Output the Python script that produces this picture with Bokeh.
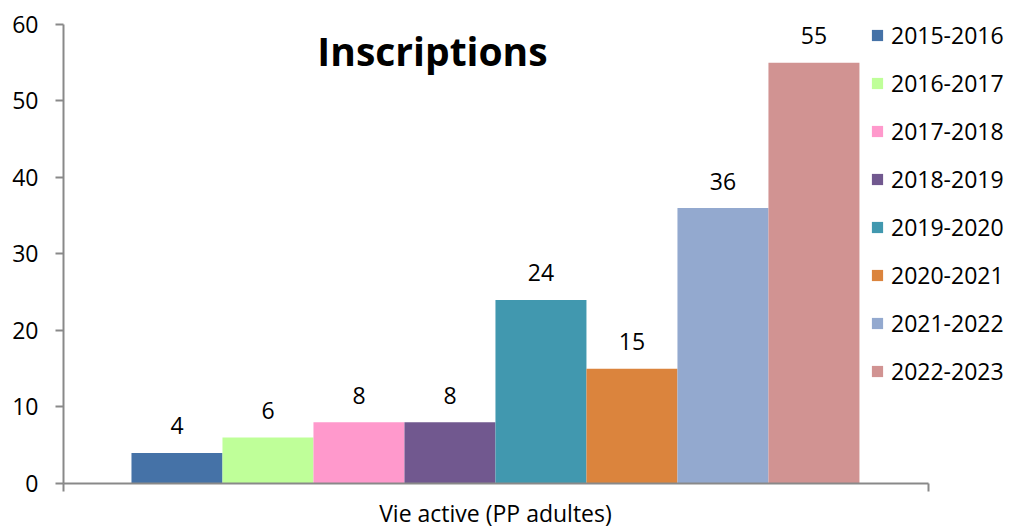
from bokeh.plotting import figure
from bokeh.models import (ColumnDataSource, Legend, LegendItem, LabelSet, Label,
                          FixedTicker, Range1d)
from bokeh.core.properties import value
from bokeh.embed import file_html
from bokeh.resources import INLINE

# ---- data ----
category = "Vie active (PP adultes)"
seasons = ["2015-2016", "2016-2017", "2017-2018", "2018-2019",
           "2019-2020", "2020-2021", "2021-2022", "2022-2023"]
inscriptions = [4, 6, 8, 8, 24, 15, 36, 55]
colors = ["#4572A7", "#BFFF99", "#FF99CC", "#71588F",
          "#4198AF", "#DB843D", "#93A9CF", "#D19392"]
y_ticks = [0, 10, 20, 30, 40, 50, 60]
y_max = 60
title_text = "Inscriptions"

FONT = "Open Sans"
AXIS_COLOR = "#898989"

pos = list(range(len(seasons)))
center = (pos[0] + pos[-1]) / 2
source = ColumnDataSource(dict(x=pos, y=inscriptions, color=colors,
                               season=seasons, lbl=[str(v) for v in inscriptions]))

# layout: frame spans from the y axis to the right edge so the legend is not clipped
x_start, x_axis_end, x_end = -1.247, 8.258, 9.149
y_end = 63.137
p = figure(width=1009, height=531, output_backend="svg", toolbar_location=None,
           x_range=Range1d(x_start, x_end), y_range=Range1d(0, y_end),
           min_border_left=63, min_border_right=0, min_border_top=0,
           min_border_bottom=48)
p.outline_line_color = None
p.xgrid.grid_line_color = None
p.ygrid.grid_line_color = None
p.background_fill_color = "white"
p.border_fill_color = "white"

r = p.vbar(x="x", top="y", width=1.0, bottom=0, source=source,
           fill_color="color", line_color=None)

labels = LabelSet(x="x", y="y", text="lbl", source=source, y_offset=27,
                  text_align="center", text_baseline="middle",
                  text_font=value(FONT), text_font_size=value("23px"),
                  text_color=value("#000000"))
p.add_layout(labels)

title = Label(x=2.808, y=56.6, text=title_text, text_font=FONT,
              text_font_size="39px", text_font_style="bold",
              text_align="center", text_baseline="middle", text_color="#000000")
p.add_layout(title)

# y axis
p.yaxis.ticker = FixedTicker(ticks=y_ticks)
p.yaxis.bounds = (0, y_max)
p.yaxis.axis_line_color = AXIS_COLOR
p.yaxis.axis_line_width = 2
p.yaxis.major_tick_line_color = AXIS_COLOR
p.yaxis.major_tick_line_width = 2
p.yaxis.major_tick_in = 0
p.yaxis.major_tick_out = 8
p.yaxis.minor_tick_line_color = None
p.yaxis.major_label_standoff = 17
p.yaxis.major_label_text_font = FONT
p.yaxis.major_label_text_font_size = "23px"
p.yaxis.major_label_text_color = "#000000"

# x axis
p.xaxis.ticker = FixedTicker(ticks=[center], minor_ticks=[x_start, x_axis_end])
p.xaxis.bounds = (x_start, x_axis_end)
p.xaxis.major_label_overrides = {center: category}
p.xaxis.axis_line_color = AXIS_COLOR
p.xaxis.axis_line_width = 2
p.xaxis.major_tick_line_color = None
p.xaxis.major_tick_in = 0
p.xaxis.major_tick_out = 0
p.xaxis.minor_tick_line_color = AXIS_COLOR
p.xaxis.minor_tick_line_width = 2
p.xaxis.minor_tick_in = 0
p.xaxis.minor_tick_out = 8
p.xaxis.major_label_standoff = 5
p.xaxis.major_label_text_font = FONT
p.xaxis.major_label_text_font_size = "23px"
p.xaxis.major_label_text_color = "#000000"

items = [LegendItem(label=s, renderers=[r], index=i) for i, s in enumerate(seasons)]
legend = Legend(items=items, location=(807, 95), orientation="vertical",
                glyph_width=14, glyph_height=14, label_height=34, spacing=14,
                label_standoff=7, padding=0, margin=0,
                border_line_color=None, background_fill_alpha=0,
                label_text_font=FONT, label_text_font_size="23px",
                label_text_color="#000000")
p.add_layout(legend)

open("out.html", "w").write(file_html(p, INLINE))
